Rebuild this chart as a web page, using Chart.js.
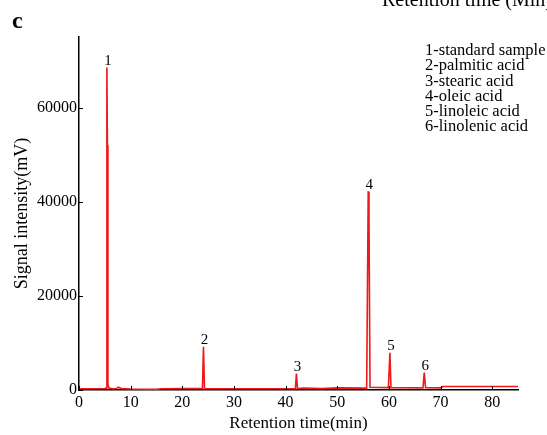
<!DOCTYPE html>
<html>
<head>
<meta charset="utf-8">
<script src="https://cdn.jsdelivr.net/npm/chart.js@4.4.1/dist/chart.umd.min.js"></script>
<style>
  html, body { margin: 0; padding: 0; background: #fff; }
  #wrap { position: relative; width: 547px; height: 435px; }
</style>
</head>
<body>
<div id="wrap"><canvas id="chart" width="547" height="435"></canvas></div>
<script>
// chromatogram points (retention time in min, signal in mV)
const retentionTime = [0, 4.9, 5.25, 5.4, 5.5, 5.6, 5.8, 6.5, 7.2, 7.6, 8.2, 10, 15, 16, 20, 23.9, 24.1, 24.3, 30, 41.9, 42.1, 42.3, 43.5, 47, 50, 55.7, 56.0, 56.15, 56.35, 59.9, 60.2, 60.4, 66.6, 66.85, 67.1, 70, 70.5, 85];
const signal = [250, 250, 400, 68500, 52000, 1200, 400, 250, 300, 600, 300, 200, 150, 250, 300, 300, 9200, 300, 250, 300, 3500, 300, 400, 300, 450, 400, 42200, 36000, 600, 500, 7900, 500, 450, 3700, 500, 450, 750, 750];

// peak numbers
const peakNames = ["1", "2", "3", "4", "5", "6"];
const peakTimes = [5.4, 24.1, 42.1, 56.0, 60.2, 66.85];
const peakHeights = [68500, 9200, 3500, 42200, 7900, 3700];

const legendLines = ["1-standard sample", "2-palmitic acid", "3-stearic acid", "4-oleic acid", "5-linoleic acid", "6-linolenic acid"];

const xTicks = [0, 10, 20, 30, 40, 50, 60, 70, 80];
const yTicks = [0, 20000, 40000, 60000];

const serif = "'Liberation Serif', 'Times New Roman', serif";

// labels, legend, inward ticks
const extras = {
  id: "extras",
  afterDraw(chart) {
    const ctx = chart.ctx;
    const xs = chart.scales.x, ys = chart.scales.y;
    ctx.save();
    ctx.strokeStyle = "#000";
    ctx.lineWidth = 1;
    xTicks.forEach(v => {
      const px = Math.round(xs.getPixelForValue(v)) + 0.5;
      ctx.beginPath(); ctx.moveTo(px, ys.bottom); ctx.lineTo(px, ys.bottom - 4); ctx.stroke();
    });
    yTicks.forEach(v => {
      const py = Math.round(ys.getPixelForValue(v)) + 0.5;
      ctx.beginPath(); ctx.moveTo(xs.left, py); ctx.lineTo(xs.left + 4, py); ctx.stroke();
    });

    ctx.fillStyle = "#000";
    ctx.font = "15px " + serif;
    ctx.textAlign = "center";
    ctx.textBaseline = "bottom";
    peakNames.forEach((n, i) => {
      const px = xs.getPixelForValue(peakTimes[i]);
      const py = ys.getPixelForValue(peakHeights[i]);
      ctx.fillText(n, px + 1, py + 1);
    });

    ctx.font = "16.5px " + serif;
    ctx.textAlign = "left";
    ctx.textBaseline = "middle";
    legendLines.forEach((t, i) => ctx.fillText(t, 425, 51 + i * 15.1));

    ctx.font = "bold 24px " + serif;
    ctx.textBaseline = "alphabetic";
    ctx.fillText("c", 12, 28);

    ctx.font = "20px " + serif;
    ctx.fillText("Retention time (Min)", 382, 6);
    ctx.restore();
  }
};

new Chart(document.getElementById("chart"), {
  type: "line",
  data: {
    datasets: [{
      data: retentionTime.map((t, i) => ({ x: t, y: signal[i] })),
      borderColor: "#f01818",
      borderWidth: 1.6,
      pointRadius: 0,
      fill: false,
      tension: 0
    }]
  },
  options: {
    responsive: false,
    animation: false,
    layout: { padding: { top: 37, right: 29, left: 0, bottom: 0 } },
    plugins: { legend: { display: false }, tooltip: { enabled: false } },
    scales: {
      x: {
        type: "linear",
        min: 0,
        max: 85,
        afterBuildTicks: s => { s.ticks = xTicks.map(v => ({ value: v })); },
        afterFit: s => { s.height = 45; },
        grid: { display: false, drawTicks: false },
        border: { display: true, color: "#000", width: 1.5 },
        ticks: { color: "#000", padding: 3, maxRotation: 0, font: { family: serif, size: 16 }, callback: v => String(v) },
        title: { display: true, text: "Retention time(min)", color: "#000", padding: { top: 0, bottom: 1 }, font: { family: serif, size: 17 } }
      },
      y: {
        min: 0,
        max: 75000,
        afterBuildTicks: s => { s.ticks = yTicks.map(v => ({ value: v })); },
        afterFit: s => { s.width = 79; },
        grid: { display: false, drawTicks: false },
        border: { display: true, color: "#000", width: 1.5 },
        ticks: { color: "#000", padding: 2, font: { family: serif, size: 16 }, callback: v => String(v) },
        title: { display: true, text: "Signal intensity(mV)", color: "#000", padding: { top: 11, bottom: 0 }, font: { family: serif, size: 18 } }
      }
    }
  },
  plugins: [extras]
});
</script>
</body>
</html>
